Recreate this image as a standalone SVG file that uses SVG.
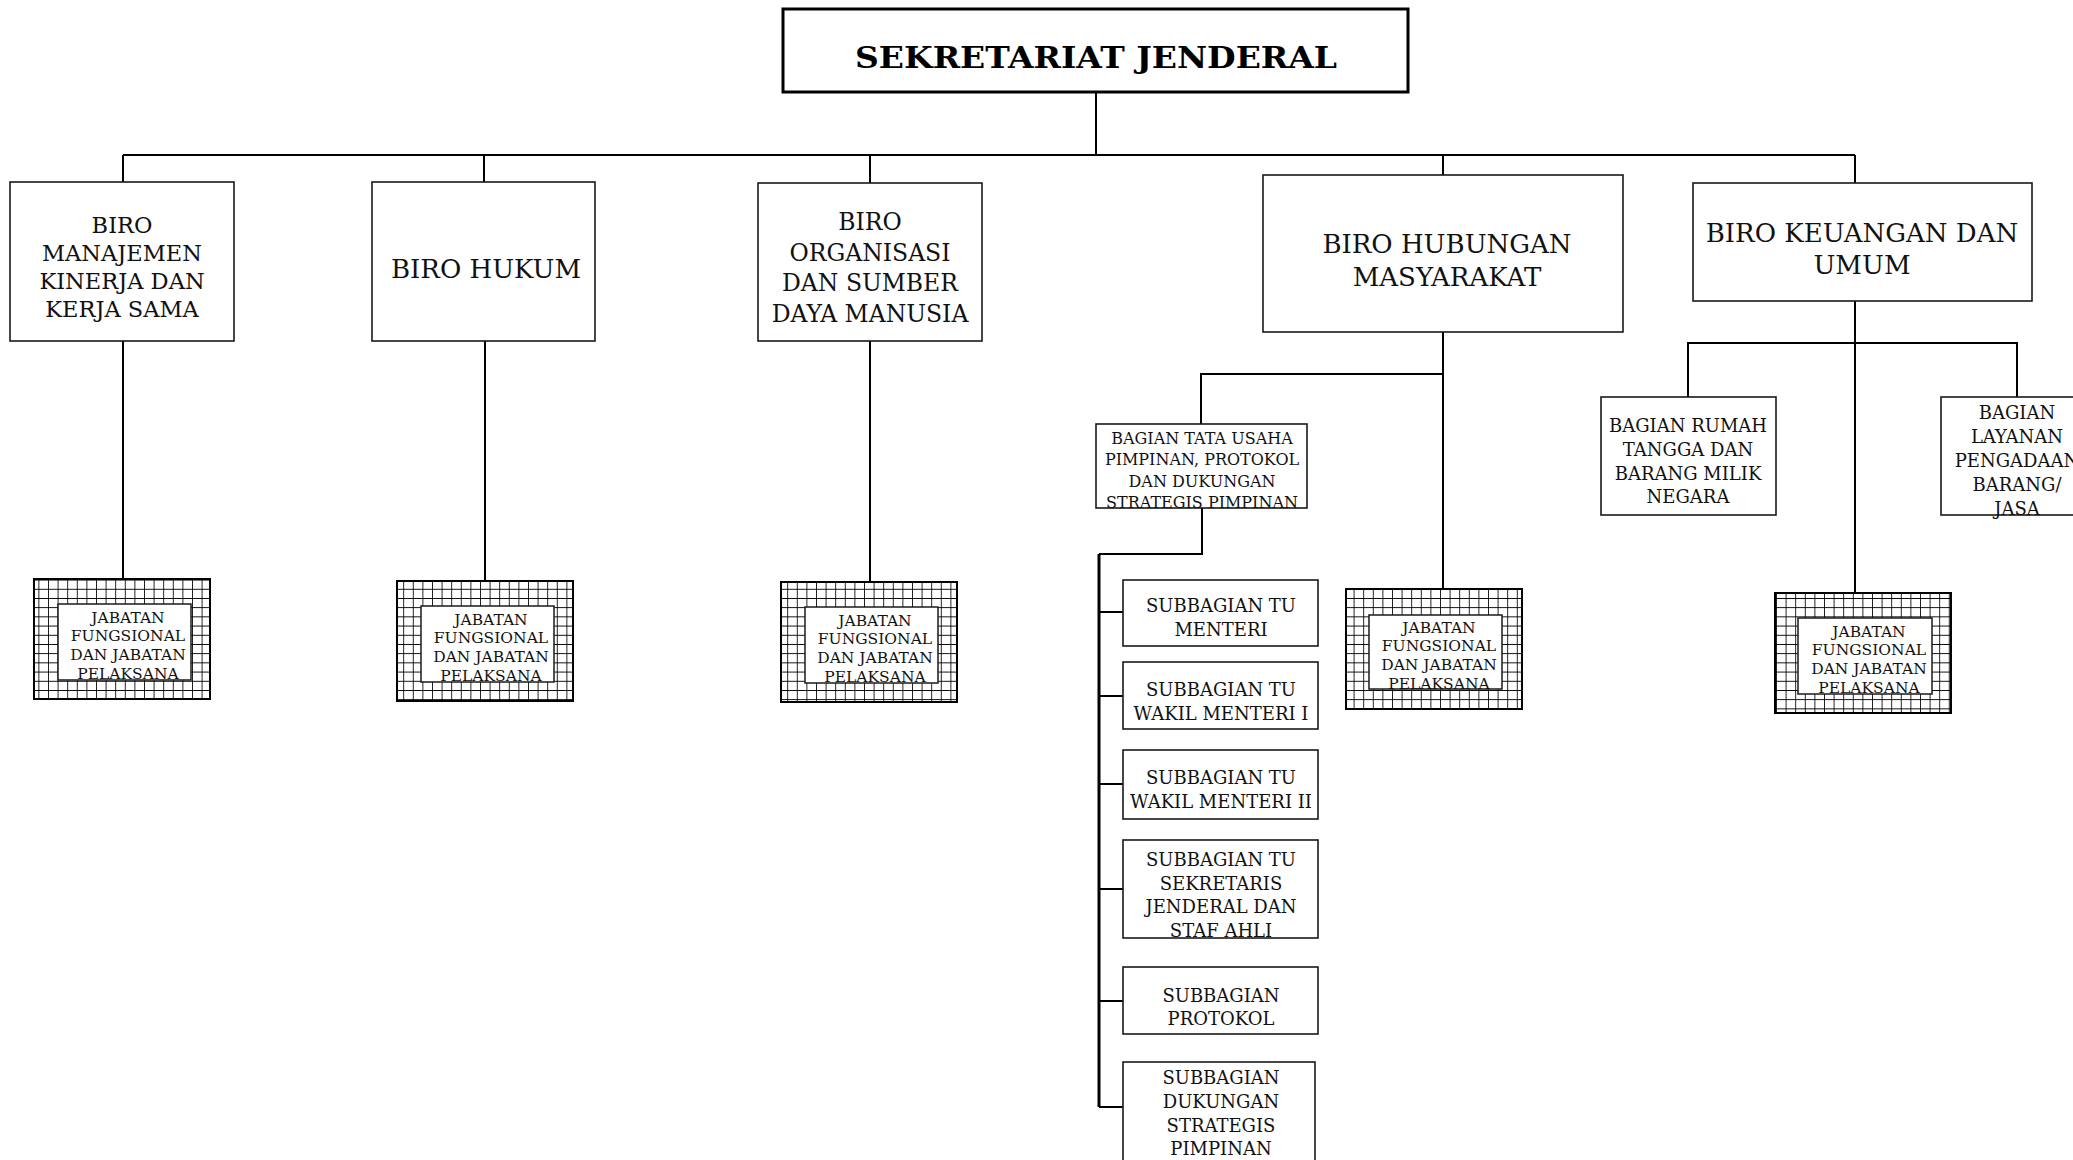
<svg xmlns="http://www.w3.org/2000/svg" width="2073" height="1160" viewBox="0 0 2073 1160">
  <style>
    .box { fill: #ffffff; stroke: #1a1a1a; stroke-width: 1.6; }
    .top { fill: #ffffff; stroke: #000000; stroke-width: 3; }
    .grid { fill: url(#hatch); stroke: #000000; stroke-width: 2; }
    .inner { fill: #ffffff; stroke: #1a1a1a; stroke-width: 1.5; }
    .ln { fill: none; stroke: #000000; stroke-width: 2; }
    .spine { fill: none; stroke: #000000; stroke-width: 3; }
    text { font-family: "DejaVu Serif", "Liberation Serif", serif; fill: #111111; text-anchor: middle; }
    .title { font-size: 30px; font-weight: bold; fill: #000000; }
    .biro { font-size: 26px; }
    .biro-s { font-size: 22.5px; }
    .biro-m { font-size: 23.5px; }
    .bag { font-size: 18px; }
    .tu { font-size: 16px; }
    .sub { font-size: 18px; }
    .jab { font-size: 15.5px; }
  </style>
  <defs>
    <pattern id="hatch" patternUnits="userSpaceOnUse" width="9.6" height="9.2">
      <rect width="9.6" height="9.2" fill="#ffffff"/>
      <path d="M0 0 V9.2 M0 0 H9.6" stroke="#000000" stroke-width="1.7" fill="none"/>
    </pattern>
  </defs>

  <!-- connectors -->
  <g id="connectors">
    <path class="ln" d="M1096 93 V155 M123 155 H1855"/>
    <path class="ln" d="M123 155 V182 M484 155 V182 M870 155 V183 M1443 155 V175 M1855 155 V183"/>
    <path class="ln" d="M123 341 V579 M485 341 V581 M870 341 V582 M1443 332 V589 M1855 301 V593"/>
    <path class="ln" d="M1443 374 H1201 V424"/>
    <path class="ln" d="M1688 397 V343 H2017 V397"/>
    <path class="ln" d="M1202 508 V554 H1099"/>
    <path class="spine" d="M1099 554 V1107"/>
    <path class="ln" d="M1099 612 H1123 M1099 696 H1123 M1099 784 H1123 M1099 889 H1123 M1099 1001 H1123 M1099 1107 H1123"/>
  </g>

  <!-- top -->
  <g id="sekjen">
    <rect class="top" x="783" y="9" width="625" height="83"/>
    <text class="title" x="1096" y="68" textLength="482" lengthAdjust="spacingAndGlyphs">SEKRETARIAT JENDERAL</text>
  </g>

  <!-- bureaus -->
  <g id="biro-manajemen">
    <rect class="box" x="10" y="182" width="224" height="159"/>
    <text class="biro-s" x="122" y="233">BIRO</text>
    <text class="biro-s" x="122" y="261">MANAJEMEN</text>
    <text class="biro-s" x="122" y="289">KINERJA DAN</text>
    <text class="biro-s" x="122" y="317">KERJA SAMA</text>
  </g>
  <g id="biro-hukum">
    <rect class="box" x="372" y="182" width="223" height="159"/>
    <text class="biro" x="486" y="278">BIRO HUKUM</text>
  </g>
  <g id="biro-organisasi">
    <rect class="box" x="758" y="183" width="224" height="158"/>
    <text class="biro-m" x="870" y="230">BIRO</text>
    <text class="biro-m" x="870" y="261">ORGANISASI</text>
    <text class="biro-m" x="870" y="291">DAN SUMBER</text>
    <text class="biro-m" x="870" y="322">DAYA MANUSIA</text>
  </g>
  <g id="biro-humas">
    <rect class="box" x="1263" y="175" width="360" height="157"/>
    <text class="biro" x="1447" y="253">BIRO HUBUNGAN</text>
    <text class="biro" x="1447" y="286">MASYARAKAT</text>
  </g>
  <g id="biro-keuangan">
    <rect class="box" x="1693" y="183" width="339" height="118"/>
    <text class="biro" x="1862" y="242">BIRO KEUANGAN DAN</text>
    <text class="biro" x="1862" y="274">UMUM</text>
  </g>

  <!-- divisions -->
  <g id="bagian-tata-usaha">
    <rect class="box" x="1096" y="424" width="211" height="84"/>
    <text class="tu" x="1202" y="444">BAGIAN TATA USAHA</text>
    <text class="tu" x="1202" y="465">PIMPINAN, PROTOKOL</text>
    <text class="tu" x="1202" y="487">DAN DUKUNGAN</text>
    <text class="tu" x="1202" y="508">STRATEGIS PIMPINAN</text>
  </g>
  <g id="bagian-rumah-tangga">
    <rect class="box" x="1601" y="397" width="175" height="118"/>
    <text class="bag" x="1688" y="432">BAGIAN RUMAH</text>
    <text class="bag" x="1688" y="456">TANGGA DAN</text>
    <text class="bag" x="1688" y="480">BARANG MILIK</text>
    <text class="bag" x="1688" y="503">NEGARA</text>
  </g>
  <g id="bagian-layanan-pengadaan">
    <rect class="box" x="1941" y="397" width="152" height="118"/>
    <text class="bag" x="2017" y="419">BAGIAN</text>
    <text class="bag" x="2017" y="443">LAYANAN</text>
    <text class="bag" x="2017" y="467">PENGADAAN</text>
    <text class="bag" x="2017" y="491">BARANG/</text>
    <text class="bag" x="2017" y="515">JASA</text>
  </g>

  <!-- subdivisions -->
  <g id="subbagian-tu-menteri">
    <rect class="box" x="1123" y="580" width="195" height="66"/>
    <text class="sub" x="1221" y="612">SUBBAGIAN TU</text>
    <text class="sub" x="1221" y="636">MENTERI</text>
  </g>
  <g id="subbagian-tu-wamen-1">
    <rect class="box" x="1123" y="662" width="195" height="67"/>
    <text class="sub" x="1221" y="696">SUBBAGIAN TU</text>
    <text class="sub" x="1221" y="720">WAKIL MENTERI I</text>
  </g>
  <g id="subbagian-tu-wamen-2">
    <rect class="box" x="1123" y="750" width="195" height="69"/>
    <text class="sub" x="1221" y="784">SUBBAGIAN TU</text>
    <text class="sub" x="1221" y="808">WAKIL MENTERI II</text>
  </g>
  <g id="subbagian-tu-sekjen">
    <rect class="box" x="1123" y="840" width="195" height="98"/>
    <text class="sub" x="1221" y="866">SUBBAGIAN TU</text>
    <text class="sub" x="1221" y="890">SEKRETARIS</text>
    <text class="sub" x="1221" y="913">JENDERAL DAN</text>
    <text class="sub" x="1221" y="937">STAF AHLI</text>
  </g>
  <g id="subbagian-protokol">
    <rect class="box" x="1123" y="967" width="195" height="67"/>
    <text class="sub" x="1221" y="1002">SUBBAGIAN</text>
    <text class="sub" x="1221" y="1025">PROTOKOL</text>
  </g>
  <g id="subbagian-dukungan">
    <rect class="box" x="1123" y="1062" width="192" height="120"/>
    <text class="sub" x="1221" y="1084">SUBBAGIAN</text>
    <text class="sub" x="1221" y="1108">DUKUNGAN</text>
    <text class="sub" x="1221" y="1132">STRATEGIS</text>
    <text class="sub" x="1221" y="1155">PIMPINAN</text>
  </g>

  <!-- functional staff boxes -->
  <g id="jabatan-manajemen">
    <rect class="grid" x="34" y="579" width="176" height="120"/>
    <rect class="inner" x="58" y="604" width="133" height="76"/>
    <text class="jab" x="128" y="623">JABATAN</text>
    <text class="jab" x="128" y="641">FUNGSIONAL</text>
    <text class="jab" x="128" y="660">DAN JABATAN</text>
    <text class="jab" x="128" y="679">PELAKSANA</text>
  </g>
  <g id="jabatan-hukum">
    <rect class="grid" x="397" y="581" width="176" height="120"/>
    <rect class="inner" x="421" y="606" width="133" height="76"/>
    <text class="jab" x="491" y="625">JABATAN</text>
    <text class="jab" x="491" y="643">FUNGSIONAL</text>
    <text class="jab" x="491" y="662">DAN JABATAN</text>
    <text class="jab" x="491" y="681">PELAKSANA</text>
  </g>
  <g id="jabatan-organisasi">
    <rect class="grid" x="781" y="582" width="176" height="120"/>
    <rect class="inner" x="805" y="607" width="133" height="76"/>
    <text class="jab" x="875" y="626">JABATAN</text>
    <text class="jab" x="875" y="644">FUNGSIONAL</text>
    <text class="jab" x="875" y="663">DAN JABATAN</text>
    <text class="jab" x="875" y="682">PELAKSANA</text>
  </g>
  <g id="jabatan-humas">
    <rect class="grid" x="1346" y="589" width="176" height="120"/>
    <rect class="inner" x="1369" y="615" width="133" height="74"/>
    <text class="jab" x="1439" y="633">JABATAN</text>
    <text class="jab" x="1439" y="651">FUNGSIONAL</text>
    <text class="jab" x="1439" y="670">DAN JABATAN</text>
    <text class="jab" x="1439" y="689">PELAKSANA</text>
  </g>
  <g id="jabatan-keuangan">
    <rect class="grid" x="1775" y="593" width="176" height="120"/>
    <rect class="inner" x="1798" y="618" width="134" height="76"/>
    <text class="jab" x="1869" y="637">JABATAN</text>
    <text class="jab" x="1869" y="655">FUNGSIONAL</text>
    <text class="jab" x="1869" y="674">DAN JABATAN</text>
    <text class="jab" x="1869" y="693">PELAKSANA</text>
  </g>
</svg>
